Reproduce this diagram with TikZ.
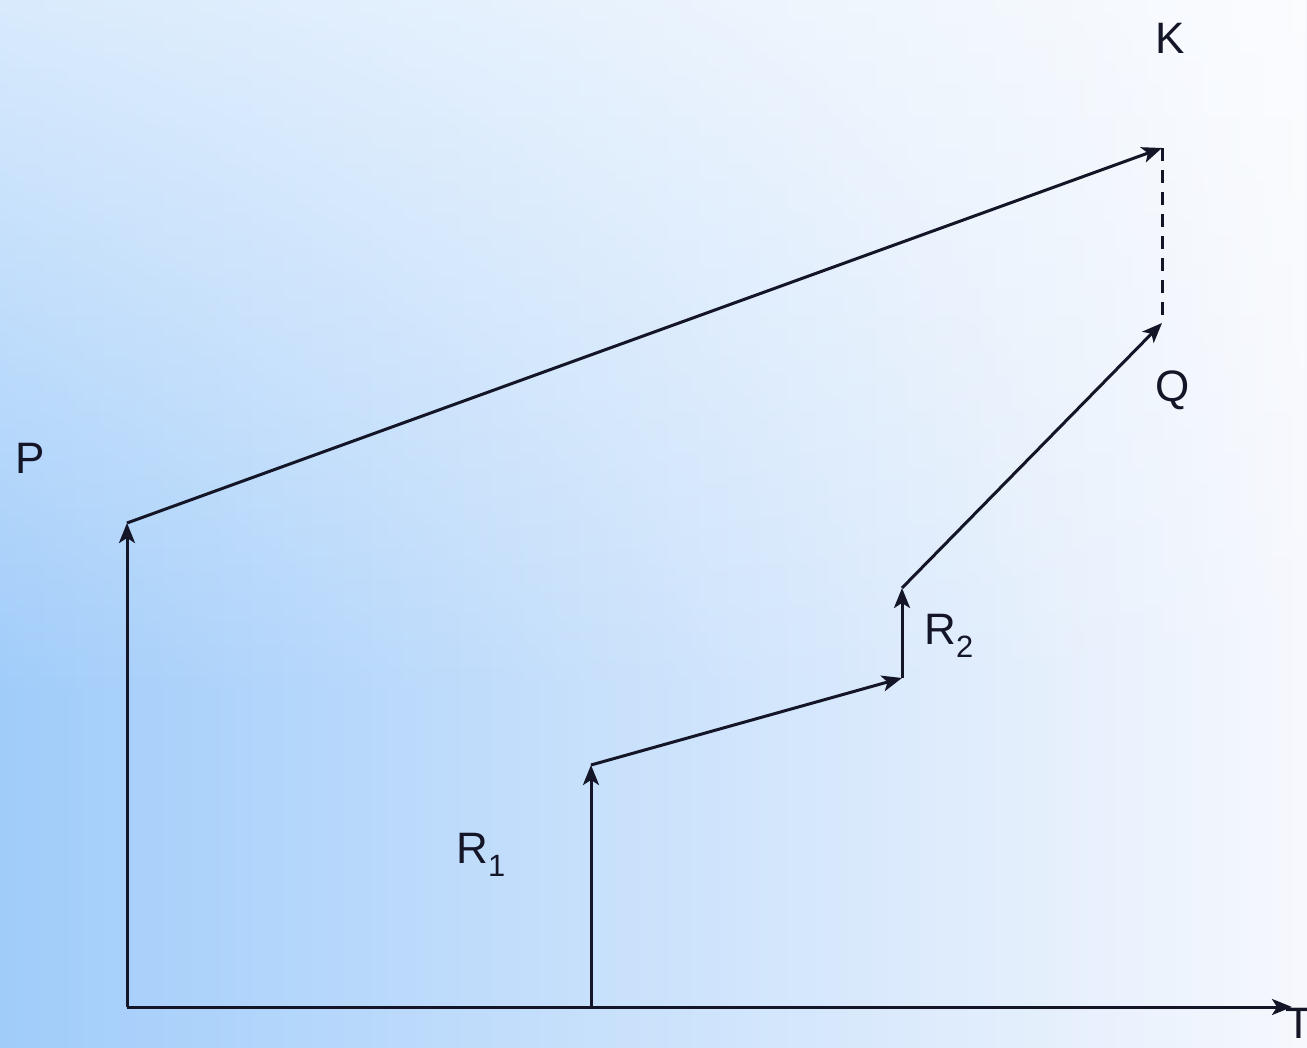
\documentclass[tikz,border=0pt]{standalone}
\usepackage{fontspec}
\setmainfont{Liberation Sans}
\usetikzlibrary{arrows.meta,fadings}
\definecolor{bgblue}{RGB}{160,204,250}
\definecolor{bgwhite}{RGB}{246,248,253}
\definecolor{ink}{RGB}{20,22,40}
\begin{document}
\begin{tikzpicture}[x=1pt,y=-1pt,
  vec/.style={draw=ink,line width=3pt,-{Stealth[length=20pt,width=16pt,inset=5pt]}},
  lbl/.style={font=\fontsize{44}{48}\selectfont,text=ink,inner sep=0pt}]
\useasboundingbox (0,0) rectangle (1307,1048);
\shade[left color=bgblue,right color=bgwhite] (0,0) rectangle (1307,1048);
\fill[white,path fading=south,opacity=0.6] (0,0) rectangle (1307,700);
% points
\coordinate (O) at (127,1007);
\coordinate (Tend) at (1292,1007);
\coordinate (P) at (127,523);
\coordinate (K) at (1162,148);
\coordinate (Q) at (1162,323);
\coordinate (A0) at (591,1007);
\coordinate (A) at (591,765);
\coordinate (B) at (902,678);
\coordinate (C) at (902,588);
% connectors
\draw[vec] (O) -- (Tend);
\draw[vec] (O) -- (P);
\draw[vec] (P) -- (K);
\draw[draw=ink,line width=3pt,dash pattern=on 13pt off 9pt] (K) -- (Q);
\draw[vec] (A0) -- (A);
\draw[vec] (A) -- (B);
\draw[vec] (B) -- (C);
\draw[vec] (C) -- (Q);
% labels
\node[lbl] (lK) at (1170,38) {K};
\node[lbl] (lQ) at (1173,390) {Q};
\node[lbl] (lP) at (30,458) {P};
\node[lbl] (lR1) at (481,855) {R\textsubscript{1}};
\node[lbl] (lR2) at (949,636) {R\textsubscript{2}};
\node[lbl,anchor=north west] (lT) at (1285,1008) {T};
\end{tikzpicture}
\end{document}
